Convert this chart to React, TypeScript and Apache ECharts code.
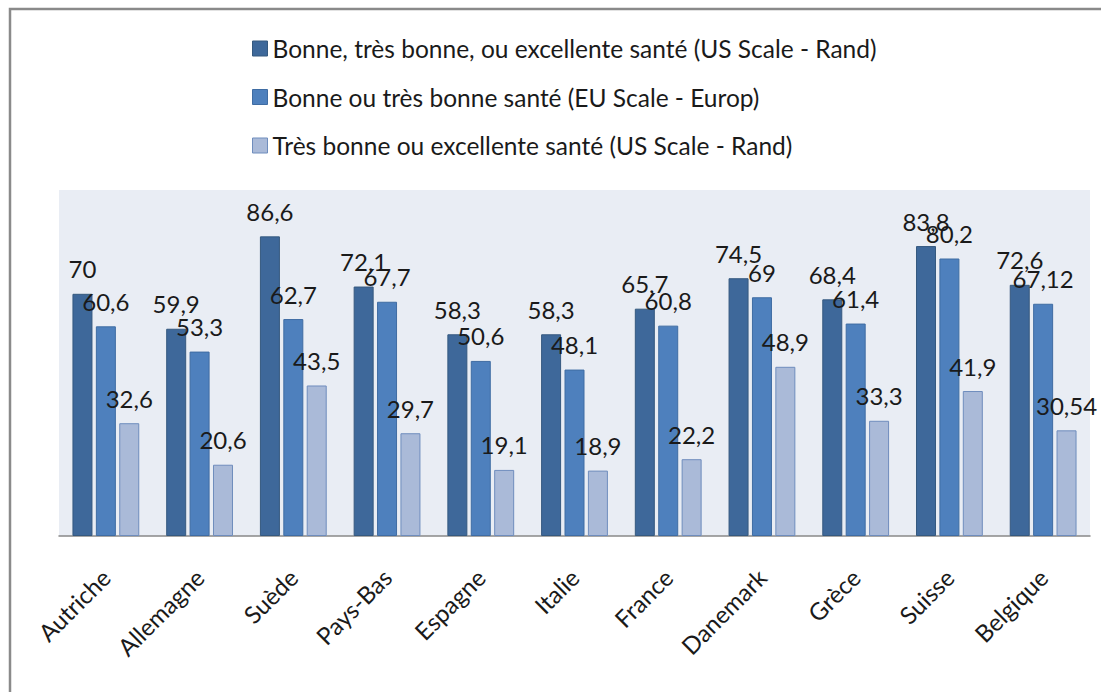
import React, { useEffect, useRef } from "react";
import * as echarts from "echarts";

const categories = ["Autriche", "Allemagne", "Suède", "Pays-Bas", "Espagne", "Italie", "France", "Danemark", "Grèce", "Suisse", "Belgique"];
const seriesNames = [
  "Bonne, très bonne, ou excellente santé (US Scale - Rand)",
  "Bonne ou très bonne santé (EU Scale - Europ)",
  "Très bonne ou excellente santé (US Scale - Rand)",
];
const usBroad = [70, 59.9, 86.6, 72.1, 58.3, 58.3, 65.7, 74.5, 68.4, 83.8, 72.6];
const euGood = [60.6, 53.3, 62.7, 67.7, 50.6, 48.1, 60.8, 69, 61.4, 80.2, 67.12];
const usVeryGood = [32.6, 20.6, 43.5, 29.7, 19.1, 18.9, 22.2, 48.9, 33.3, 41.9, 30.54];

const fills = ["#3E689A", "#4E80BD", "#AABAD8"];
const borders = ["#35597F", "#3F6CA3", "#6F8DBD"];

const FONT = "Lato";

export default function App() {
  const ref = useRef<HTMLDivElement>(null);
  useEffect(() => {
    if (!ref.current) return;
    const chart = echarts.init(ref.current, undefined, { renderer: "svg" });
    const datasets = [usBroad, euGood, usVeryGood];
    chart.setOption({
      animation: false,
      backgroundColor: "#ffffff",
      graphic: [
        {
          type: "rect",
          shape: { x: 10, y: 9, width: 1300, height: 900 },
          style: { fill: "none", stroke: "#8a8a8a", lineWidth: 2.5 },
          silent: true,
          z: 100,
        },
      ],
      legend: {
        orient: "vertical",
        left: 252,
        top: 36,
        padding: 0,
        itemWidth: 15,
        itemHeight: 15,
        itemGap: 23.5,
        icon: "rect",
        textStyle: { fontFamily: FONT, fontSize: 24.5, color: "#1a1a1a", lineHeight: 20 },
        data: seriesNames.map((n, i) => ({ name: n, itemStyle: { color: fills[i], borderColor: borders[i], borderWidth: 1 } })),
      },
      grid: {
        left: 59,
        right: 11,
        top: 190,
        bottom: 156,
        show: true,
        backgroundColor: "#E9EDF4",
        borderWidth: 0,
      },
      xAxis: {
        type: "category",
        data: categories,
        axisLine: { show: true, lineStyle: { color: "#888888", width: 1.5 } },
        axisTick: { show: false },
        axisLabel: {
          rotate: 45,
          interval: 0,
          margin: 37,
          fontFamily: FONT,
          fontSize: 24,
          color: "#1a1a1a",
        },
      },
      yAxis: {
        type: "value",
        min: 0,
        max: 100,
        show: false,
        splitLine: { show: false },
      },
      series: datasets.map((d, i) => ({
        name: seriesNames[i],
        type: "bar",
        data: d,
        barWidth: 20,
        barGap: "17%",
        itemStyle: { color: fills[i], borderColor: borders[i], borderWidth: 1 },
        label: {
          show: true,
          position: "top",
          distance: 13,
          fontFamily: FONT,
          fontSize: 24,
          color: "#1a1a1a",
          formatter: (p: any) => String(p.value).replace(".", ","),
        },
      })),
    });
    return () => chart.dispose();
  }, []);
  return <div ref={ref} style={{ position: "absolute", left: 0, top: 0, width: 1101, height: 692 }} />;
}
